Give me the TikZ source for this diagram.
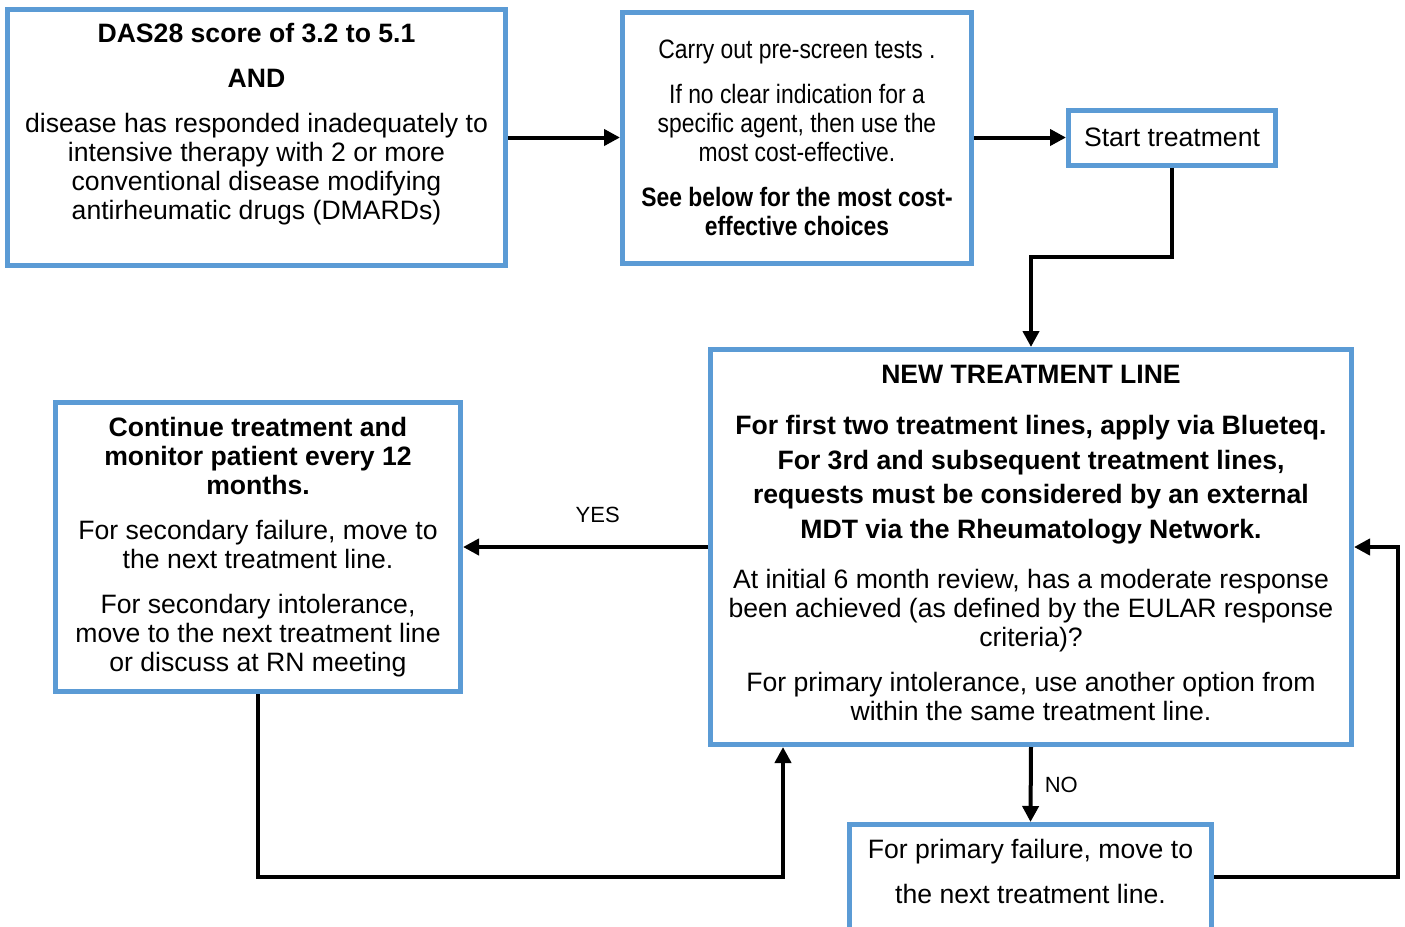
\documentclass[tikz,border=0pt]{standalone}
\usepackage{fontspec}
\setmainfont{Liberation Sans}
\newfontfamily\narrowfont[FakeStretch=0.86]{Liberation Sans}
\usepackage{tikz}
\usetikzlibrary{arrows.meta, calc, positioning}
\definecolor{boxblue}{RGB}{91,155,213}
\tikzset{
    x=0.5pt, y=-0.5pt, % one unit is one pixel of the flow chart, y runs down
    >={Triangle[length=8pt,width=8pt]}, line width=2pt,
    box/.style ={draw=boxblue, line width=2.5pt, fill=white, align=center, inner sep=2pt,
                 font=\fontsize{13.3}{14.5}\selectfont}, % the blue framed step of the chart
    flow/.style ={->, line width=2pt},
    tag/.style ={font=\fontsize{11}{13}\selectfont, inner sep=2pt}
}
\begin{document}
\begin{tikzpicture}
    \useasboundingbox (0,0) rectangle (1405,927);
    \node[box, minimum width=249pt, minimum height=128pt] (cond) at (256.5,137.5)
        {\textbf{DAS28 score of 3.2 to 5.1}\\[8pt] \textbf{AND}\\[8pt]
         disease has responded inadequately to\\ intensive therapy with 2 or more\\
         conventional disease modifying\\ antirheumatic drugs (DMARDs)\\[2pt]\mbox{}};
    \node[box, font=\narrowfont\fontsize{13.3}{14.5}\selectfont, minimum width=174.5pt,
          minimum height=125.5pt, right=56pt of cond] (prescreen)
        {Carry out pre-screen tests .\\[8pt] If no clear indication for a\\
         specific agent, then use the\\ most cost-effective.\\[8pt]
         \textbf{See below for the most cost-}\\ \textbf{effective choices}};
    \node[box, minimum width=103.5pt, minimum height=27.5pt, right=46pt of prescreen] (start)
        {Start treatment};
    \node[box, minimum width=320.5pt, minimum height=197.5pt] (newline) at (1031,547)
        {\textbf{NEW TREATMENT LINE}\\[11pt]
         \textbf{For first two treatment lines, apply via Blueteq.}\\[2.75pt]
         \textbf{For 3rd and subsequent treatment lines,}\\[2.75pt]
         \textbf{requests must be considered by an external}\\[2.75pt]
         \textbf{MDT via the Rheumatology Network.}\\[10.5pt]
         At initial 6 month review, has a moderate response\\
         been achieved (as defined by the EULAR response\\
         criteria)?\\[8pt]
         For primary intolerance, use another option from\\
         within the same treatment line.\\[-10.2pt]\mbox{}};
    \node[box, minimum width=202.5pt, minimum height=144.5pt] (cont) at (258,547)
        {\textbf{Continue treatment and}\\ \textbf{monitor patient every 12}\\ \textbf{months.}\\[8pt]
         For secondary failure, move to\\ the next treatment line.\\[8pt]
         For secondary intolerance,\\ move to the next treatment line\\ or discuss at RN meeting};
    \node[box, minimum width=181pt, minimum height=52.5pt] (primary) at (1030.5,877)
        {For primary failure, move to\\[8pt] the next treatment line.\\[-8.7pt]\mbox{}};
    % connectors
    \draw[flow] (cond) -- (prescreen);
    \draw[flow] (prescreen) -- (start);
    \draw[flow] (start.south) -- ++(0,89) -| (newline.north);
    \draw[flow] (newline.west) -- node[tag, pos=0.45, yshift=16pt] {YES} (cont.east);
    \draw[flow] (newline.south) -- node[tag, right=4pt] {NO} (primary.north);
    \draw[flow] (primary.east) -- ++(184,0) |- (newline.east);
    \draw[flow] (cont.south) -- ++(0,183) -| ([xshift=37.5pt]newline.south west);
\end{tikzpicture}
\end{document}
